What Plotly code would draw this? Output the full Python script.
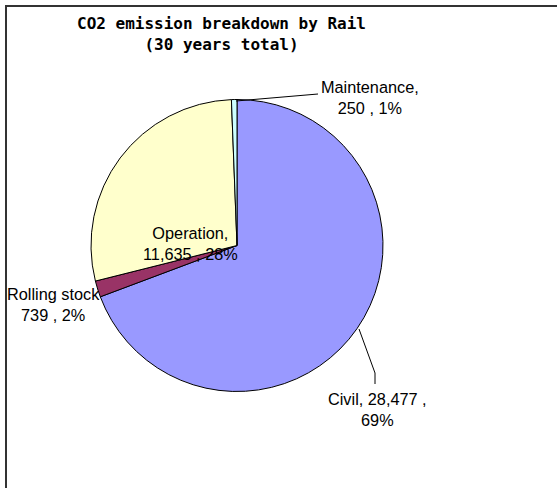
import plotly.graph_objects as go

W, H = 557, 488

categories = ["Civil", "Rolling stock", "Operation", "Maintenance"]
values = [28477, 739, 11635, 250]
percents = ["69%", "2%", "28%", "1%"]
colors = ["#9999FF", "#993366", "#FFFFCC", "#CCFFFF"]

def px(x):
    return x / W

def py(y):
    return 1 - y / H

cx, cy, r = 237, 245.5, 146

fig = go.Figure(go.Pie(
    labels=categories,
    values=values,
    sort=False,
    direction="clockwise",
    rotation=0,
    textinfo="none",
    hoverinfo="label+value+percent",
    marker=dict(colors=colors, line=dict(color="black", width=1)),
    domain=dict(x=[px(cx - r), px(cx + r)], y=[py(cy + r), py(cy - r)]),
    showlegend=False,
))

label_font = dict(family="Liberation Sans, Arial, sans-serif", size=16.3, color="black")

def fmt(v):
    return f"{v:,}"

label_pos = {
    "Civil": (377, 409, "{c}, {v} ,<br>{p}"),
    "Rolling stock": (54, 304, "{c}<br>{v} , {p}"),
    "Operation": (190, 243, "{c},<br>{v} , {p}"),
    "Maintenance": (370, 98, "{c},<br>{v} , {p}"),
}

annotations = []
for c, v, p in zip(categories, values, percents):
    x, y, t = label_pos[c]
    annotations.append(dict(
        x=px(x), y=py(y), xref="paper", yref="paper",
        text=t.format(c=c, v=fmt(v), p=p),
        showarrow=False, font=label_font, align="center",
        xanchor="center", yanchor="middle",
    ))

annotations.append(dict(
    x=px(221), y=py(34), xref="paper", yref="paper",
    text="<b>CO2 emission breakdown by Rail<br>(30 years total)</b>",
    showarrow=False, align="center", xanchor="center", yanchor="middle",
    font=dict(family="DejaVu Sans Mono, monospace", size=16, color="black"),
))

shapes = [
    dict(type="rect", xref="paper", yref="paper",
         x0=px(6), x1=px(W + 20), y0=py(H + 20), y1=py(6),
         line=dict(color="#333333", width=2), fillcolor="rgba(0,0,0,0)"),
    dict(type="path", xref="paper", yref="paper",
         path=f"M {px(236)},{py(101)} L {px(318)},{py(94)}",
         line=dict(color="black", width=1)),
    dict(type="path", xref="paper", yref="paper",
         path=f"M {px(359)},{py(329)} L {px(375)},{py(373)} L {px(375)},{py(384)}",
         line=dict(color="black", width=1)),
]

fig.update_layout(
    width=W, height=H,
    margin=dict(l=0, r=0, t=0, b=0),
    paper_bgcolor="white",
    plot_bgcolor="white",
    annotations=annotations,
    shapes=shapes,
)

fig.write_html("out.html")
